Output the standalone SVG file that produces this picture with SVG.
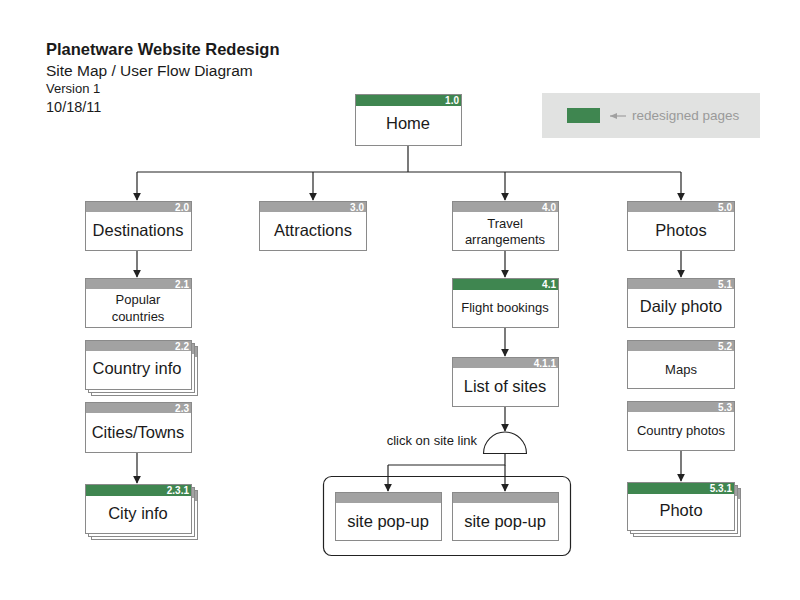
<svg xmlns="http://www.w3.org/2000/svg" width="800" height="600" viewBox="0 0 800 600">
<defs>
<style>
text{font-family:"Liberation Sans","DejaVu Sans",Arial,sans-serif;fill:#1a1a1a}
.box{fill:#fff;stroke:#8a8a8a;stroke-width:1}
.hg{fill:#a2a2a2}
.hgr{fill:#3f8650}
.num{font-size:10px;font-weight:bold;fill:#fff;text-anchor:end}
.lbl{font-size:16.5px;text-anchor:middle}
.sm{font-size:13px;text-anchor:middle}
.con{fill:none;stroke:#222;stroke-width:1.2}
</style>
<marker id="ah" viewBox="0 0 10 10" refX="9" refY="5" markerWidth="8" markerHeight="8" markerUnits="userSpaceOnUse" orient="auto"><path d="M0,0 L10,5 L0,10 z" fill="#222"/></marker>
</defs>
<rect width="800" height="600" fill="#fff"/>
<g id="title">
<text x="46" y="55" style="font-size:16.5px;font-weight:bold">Planetware Website Redesign</text>
<text x="46" y="76" style="font-size:15.5px">Site Map / User Flow Diagram</text>
<text x="46" y="93" style="font-size:13px">Version 1</text>
<text x="46" y="112" style="font-size:14.5px">10/18/11</text>
</g>
<g id="legend">
<rect x="542" y="93" width="218" height="45" fill="#e1e2e1"/>
<rect x="567" y="108" width="33" height="15" fill="#3f8650"/>
<line x1="610" y1="116" x2="626" y2="116" stroke="#a0a0a0" stroke-width="1.2"/>
<path d="M610,116 L617,113 L617,119 z" fill="#a0a0a0"/>
<text x="632" y="120" style="font-size:13.5px;fill:#9a9a9a">redesigned pages</text>
</g>
<g id="connectors">
<path class="con" d="M408,145 V172 M137,172 H681"/>
<path class="con" marker-end="url(#ah)" d="M137,172 V200"/>
<path class="con" marker-end="url(#ah)" d="M313,172 V200"/>
<path class="con" marker-end="url(#ah)" d="M505,172 V200"/>
<path class="con" marker-end="url(#ah)" d="M681,172 V200"/>
<path class="con" marker-end="url(#ah)" d="M137,250 V277"/>
<path class="con" marker-end="url(#ah)" d="M137,452 V483"/>
<path class="con" marker-end="url(#ah)" d="M505,250 V277"/>
<path class="con" marker-end="url(#ah)" d="M505,327 V356"/>
<path class="con" marker-end="url(#ah)" d="M505,406 V431"/>
<path class="con" d="M505,453 V465 H388"/>
<path class="con" marker-end="url(#ah)" d="M388,465 V491"/>
<path class="con" marker-end="url(#ah)" d="M505,465 V491"/>
<path class="con" marker-end="url(#ah)" d="M681,250 V277"/>
<path class="con" marker-end="url(#ah)" d="M681,450 V481"/>
</g>
<g id="n1_0"><rect class="box" x="355.5" y="94.5" width="106" height="51"/><rect class="hgr" x="356" y="95" width="105" height="11"/><text class="num" x="459" y="104">1.0</text><text class="lbl" x="408" y="129">Home</text></g>
<g id="n2_0"><rect class="box" x="85.5" y="201.5" width="106" height="49"/><rect class="hg" x="86" y="202" width="105" height="10"/><text class="num" x="189" y="210.5">2.0</text><text class="lbl" x="138" y="236">Destinations</text></g>
<g id="n3_0"><rect class="box" x="259.5" y="201.5" width="107" height="49"/><rect class="hg" x="260" y="202" width="106" height="10"/><text class="num" x="364" y="210.5">3.0</text><text class="lbl" x="313" y="236">Attractions</text></g>
<g id="n4_0"><rect class="box" x="452.5" y="201.5" width="106" height="49"/><rect class="hg" x="453" y="202" width="105" height="10"/><text class="num" x="556" y="210.5">4.0</text><text class="sm" x="505" y="228">Travel</text><text class="sm" x="505" y="244">arrangements</text></g>
<g id="n5_0"><rect class="box" x="627.5" y="201.5" width="107" height="49"/><rect class="hg" x="628" y="202" width="106" height="10"/><text class="num" x="732" y="210.5">5.0</text><text class="lbl" x="681" y="236">Photos</text></g>
<g id="n2_1"><rect class="box" x="85.5" y="278.5" width="106" height="49"/><rect class="hg" x="86" y="279" width="105" height="10"/><text class="num" x="189" y="287.5">2.1</text><text class="sm" x="138" y="304">Popular</text><text class="sm" x="138" y="321">countries</text></g>
<g id="n2_2">
<rect class="box" x="91.5" y="346.5" width="106" height="49"/><rect class="hg" x="92" y="347" width="105" height="10"/>
<rect class="box" x="88.5" y="343.5" width="106" height="49"/><rect class="hg" x="89" y="344" width="105" height="10"/>
<rect class="box" x="85.5" y="340.5" width="106" height="49"/><rect class="hg" x="86" y="341" width="105" height="10"/><text class="num" x="189" y="349.5">2.2</text><text class="lbl" x="137" y="374">Country info</text></g>
<g id="n2_3"><rect class="box" x="85.5" y="402.5" width="106" height="50"/><rect class="hg" x="86" y="403" width="105" height="10"/><text class="num" x="189" y="411.5">2.3</text><text class="lbl" x="138" y="438">Cities/Towns</text></g>
<g id="n2_3_1">
<rect class="box" x="91.5" y="490.5" width="106" height="49"/><rect class="hg" x="92" y="491" width="105" height="10"/>
<rect class="box" x="88.5" y="487.5" width="106" height="49"/><rect class="hg" x="89" y="488" width="105" height="10"/>
<rect class="box" x="85.5" y="484.5" width="106" height="49"/><rect class="hgr" x="86" y="485" width="105" height="11"/><text class="num" x="189" y="494">2.3.1</text><text class="lbl" x="138" y="519">City info</text></g>
<g id="n4_1"><rect class="box" x="452.5" y="278.5" width="106" height="49"/><rect class="hgr" x="453" y="279" width="105" height="11"/><text class="num" x="556" y="288">4.1</text><text class="sm" x="505" y="312">Flight bookings</text></g>
<g id="n4_1_1"><rect class="box" x="452.5" y="357.5" width="106" height="49"/><rect class="hg" x="453" y="358" width="105" height="10"/><text class="num" x="556" y="366.5">4.1.1</text><text class="lbl" x="505" y="392">List of sites</text></g>
<g id="decision"><path d="M483.5,453.5 A21.5,21.5 0 0 1 526.5,453.5 Z" fill="#fff" stroke="#222" stroke-width="1.1"/><text x="477" y="445" style="font-size:13px;text-anchor:end">click on site link</text></g>
<g id="popups">
<rect x="323.5" y="476.5" width="247" height="79" rx="8" fill="none" stroke="#222" stroke-width="1.2"/>
<g id="popup1"><rect class="box" x="335.5" y="492.5" width="106" height="48"/><rect class="hg" x="336" y="493" width="105" height="10"/><text class="lbl" x="388" y="527">site pop-up</text></g>
<g id="popup2"><rect class="box" x="452.5" y="492.5" width="106" height="48"/><rect class="hg" x="453" y="493" width="105" height="10"/><text class="lbl" x="505" y="527">site pop-up</text></g>
</g>
<g id="n5_1"><rect class="box" x="627.5" y="278.5" width="107" height="49"/><rect class="hg" x="628" y="279" width="106" height="10"/><text class="num" x="732" y="287.5">5.1</text><text class="lbl" x="681" y="312">Daily photo</text></g>
<g id="n5_2"><rect class="box" x="627.5" y="340.5" width="107" height="48"/><rect class="hg" x="628" y="341" width="106" height="10"/><text class="num" x="732" y="349.5">5.2</text><text class="sm" x="681" y="374">Maps</text></g>
<g id="n5_3"><rect class="box" x="627.5" y="401.5" width="107" height="49"/><rect class="hg" x="628" y="402" width="106" height="10"/><text class="num" x="732" y="410.5">5.3</text><text class="sm" x="681" y="435">Country photos</text></g>
<g id="n5_3_1">
<rect class="box" x="633.5" y="488.5" width="107" height="48"/><rect class="hg" x="634" y="489" width="106" height="10"/>
<rect class="box" x="630.5" y="485.5" width="107" height="48"/><rect class="hg" x="631" y="486" width="106" height="10"/>
<rect class="box" x="627.5" y="482.5" width="107" height="48"/><rect class="hgr" x="628" y="483" width="106" height="11"/><text class="num" x="732" y="492">5.3.1</text><text class="lbl" x="681" y="516">Photo</text></g>
</svg>
